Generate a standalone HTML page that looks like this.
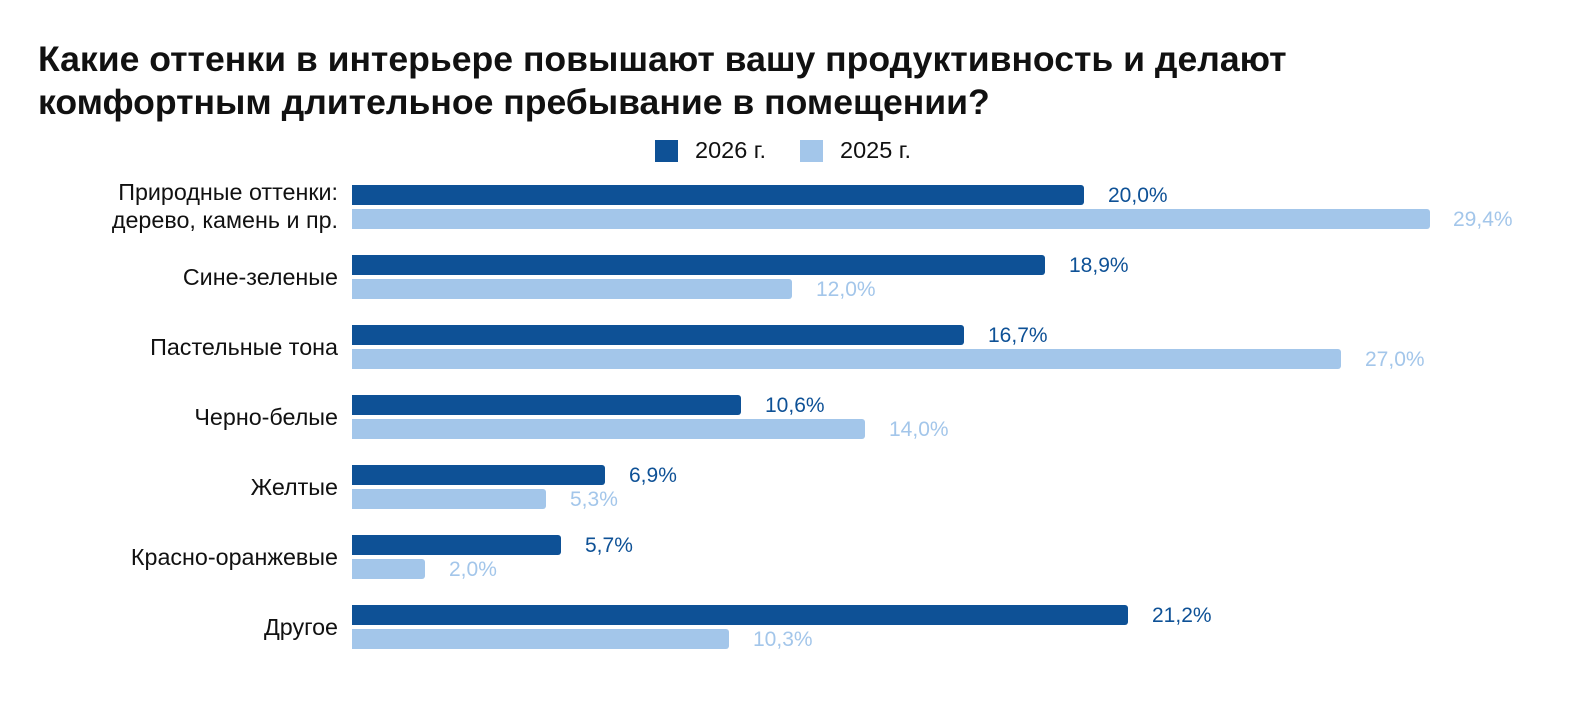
<!DOCTYPE html>
<html><head><meta charset="utf-8"><style>
body{margin:0;background:#fff;width:1588px;height:712px;overflow:hidden;font-family:"Liberation Sans",sans-serif;position:relative}
.t{position:absolute;left:38px;top:38px;font-size:35.6px;font-weight:bold;color:#111;line-height:43px;white-space:nowrap}
.a{position:absolute}
.b{position:absolute;left:352px;height:20px;border-radius:0 3px 3px 0}
.d{background:#0e5196}.l{background:#a3c6ea}
.v{position:absolute;font-size:21px;line-height:20px}
.vd{color:#0e5196}.vl{color:#a3c6ea}
.c{position:absolute;right:1250px;font-size:23.3px;color:#111;text-align:right;line-height:28px;white-space:nowrap}
</style></head><body>
<div class="t">Какие оттенки в интерьере повышают вашу продуктивность и делают<br>комфортным длительное пребывание в помещении?</div>
<div class="a" style="left:655px;top:140px;width:23px;height:22px;background:#0e5196"></div>
<div class="a" style="left:695px;top:138px;font-size:23.5px;line-height:25px;color:#111">2026 г.</div>
<div class="a" style="left:800px;top:140px;width:23px;height:22px;background:#a3c6ea"></div>
<div class="a" style="left:840px;top:138px;font-size:23.5px;line-height:25px;color:#111">2025 г.</div>

<div class="c" style="top:178px">Природные оттенки:<br>дерево, камень и пр.</div>
<div class="b d" style="top:185px;width:732px"></div><div class="v vd" style="top:186px;left:1108px">20,0%</div>
<div class="b l" style="top:209px;width:1078px"></div><div class="v vl" style="top:210px;left:1453px">29,4%</div>

<div class="c" style="top:263px">Сине-зеленые</div>
<div class="b d" style="top:255px;width:693px"></div><div class="v vd" style="top:256px;left:1069px">18,9%</div>
<div class="b l" style="top:279px;width:440px"></div><div class="v vl" style="top:280px;left:816px">12,0%</div>

<div class="c" style="top:333px">Пастельные тона</div>
<div class="b d" style="top:325px;width:612px"></div><div class="v vd" style="top:326px;left:988px">16,7%</div>
<div class="b l" style="top:349px;width:989px"></div><div class="v vl" style="top:350px;left:1365px">27,0%</div>

<div class="c" style="top:403px">Черно-белые</div>
<div class="b d" style="top:395px;width:389px"></div><div class="v vd" style="top:396px;left:765px">10,6%</div>
<div class="b l" style="top:419px;width:513px"></div><div class="v vl" style="top:420px;left:889px">14,0%</div>

<div class="c" style="top:473px">Желтые</div>
<div class="b d" style="top:465px;width:253px"></div><div class="v vd" style="top:466px;left:629px">6,9%</div>
<div class="b l" style="top:489px;width:194px"></div><div class="v vl" style="top:490px;left:570px">5,3%</div>

<div class="c" style="top:543px">Красно-оранжевые</div>
<div class="b d" style="top:535px;width:209px"></div><div class="v vd" style="top:536px;left:585px">5,7%</div>
<div class="b l" style="top:559px;width:73px"></div><div class="v vl" style="top:560px;left:449px">2,0%</div>

<div class="c" style="top:613px">Другое</div>
<div class="b d" style="top:605px;width:776px"></div><div class="v vd" style="top:606px;left:1152px">21,2%</div>
<div class="b l" style="top:629px;width:377px"></div><div class="v vl" style="top:630px;left:753px">10,3%</div>
</body></html>
